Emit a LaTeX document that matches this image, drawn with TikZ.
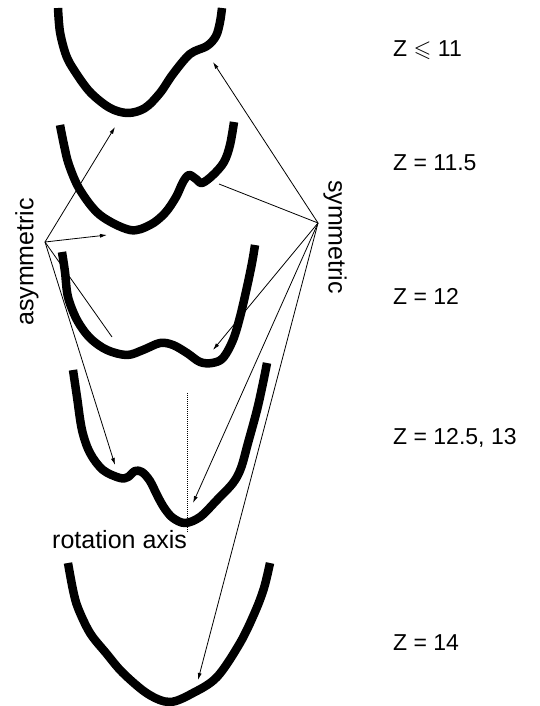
\documentclass[tikz,border=0pt]{standalone}
\usepackage{amssymb}
\usepackage{fontspec}
\setmainfont{Liberation Sans}
\usetikzlibrary{arrows.meta}

\begin{document}
\begin{tikzpicture}[x=1pt,y=-1pt,
  font=\fontsize{23}{27}\selectfont,
  curve/.style={line width=8.5pt,line join=round},
  ar/.style={-{Latex[length=7pt,width=4pt]},line width=0.8pt},
  ln/.style={line width=0.8pt},
  axisline/.style={line width=0.6pt,dash pattern=on 1pt off 1pt},
  lbl/.style={inner sep=0pt,anchor=base west},
  side/.style={inner sep=0pt,font=\fontsize{25}{29}\selectfont}]
\useasboundingbox (0,0) rectangle (539,706);

% profiles, top to bottom
\draw[curve] plot[smooth,tension=0.55] coordinates {(58,8) (60,32) (66,55) (74,70) (90,92) (110,108)
  (128,113) (145,108) (160,93) (173,74) (190,54) (207,46) (216,36) (220,22) (222,8)};
\draw[curve] plot[smooth,tension=0.55] coordinates {(60,125) (64,145) (69,165) (80,190) (100,215)
  (130,230) (150,225) (165,213) (176,197) (183,182) (189,175) (196,179) (202,183) (213,175)
  (224,162) (230,145) (234,122)};
\draw[curve] plot[smooth,tension=0.55] coordinates {(62,252) (65,272) (68,297) (77,320) (90,338)
  (107,350) (127,355) (143,350) (160,343) (173,345) (187,353) (200,362) (212,363) (223,358)
  (233,340) (240,317) (247,287) (252,263) (255,245)};
\draw[curve] plot[smooth,tension=0.55] coordinates {(73,370) (77,397) (82,430) (90,453) (103,470)
  (120,478) (128,477) (135,471) (142,472) (150,481) (158,497) (165,509) (173,518) (185,523)
  (200,517) (217,500) (233,483) (241,468) (248,443) (257,410) (263,383) (267,363)};
\draw[curve] plot[smooth,tension=0.55] coordinates {(68,563) (73,590) (78,608) (90,633) (106,653)
  (123,673) (148,694) (170,702) (193,693) (217,677) (240,643) (255,612) (264,588) (270,563)};

% rotation axis
\coordinate (axtop) at (187,393);
\coordinate (axbot) at (187,533);
\draw[axisline] (axtop) -- (axbot);

% labels
\node[side,rotate=90] (lasym) at (27,262) {asymmetric};
\node[side,rotate=-90] (lsym) at (335,237) {symmetric};
\node[side,anchor=base west] (lrot) at (52,548) {rotation axis};
\node[lbl] (z1) at (393,57) {Z $\leqslant$ 11};
\node[lbl] (z2) at (393,170) {Z = 11.5};
\node[lbl] (z3) at (393,304) {Z = 12};
\node[lbl] (z4) at (393,444) {Z = 12.5, 13};
\node[lbl] (z5) at (393,650) {Z = 14};

% pointers
\coordinate (asym) at (45,242);
\coordinate (sym) at (318,223);
\coordinate (a1) at (115,127);
\coordinate (a2) at (107,235);
\coordinate (a3) at (112,337);
\coordinate (a4) at (115,465);
\coordinate (s1) at (213,62);
\coordinate (s2) at (219,184);
\coordinate (s3) at (213,350);
\coordinate (s4) at (193,503);
\coordinate (s5) at (198,680);
\draw[ar] (asym) -- (a1);
\draw[ar] (asym) -- (a2);
\draw[ln] (asym) -- (a3);
\draw[ar] (asym) -- (a4);
\draw[ar] (sym) -- (s1);
\draw[ln] (sym) -- (s2);
\draw[ar] (sym) -- (s3);
\draw[ar] (sym) -- (s4);
\draw[ar] (sym) -- (s5);
\end{tikzpicture}
\end{document}
